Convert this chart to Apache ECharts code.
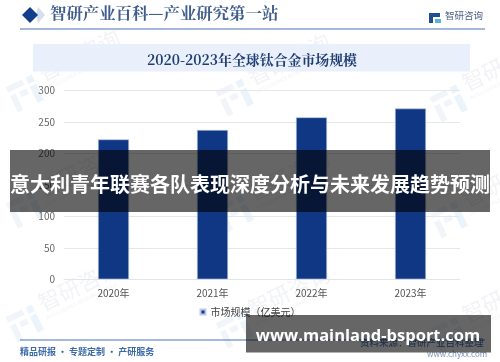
<!DOCTYPE html>
<html>
<head>
<meta charset="utf-8">
<style>
html, body { margin: 0; padding: 0; background: #fff; }
#chart { width: 500px; height: 362px; }
</style>
<script src="https://cdn.jsdelivr.net/npm/echarts@6/dist/echarts.min.js"></script>
</head>
<body>
<div id="chart"></div>
<script>
const years = ['2020年', '2021年', '2022年', '2023年']
const marketSize = [222, 237, 257, 271]
const seriesName = '市场规模（亿美元）'
const yTicks = [0, 50, 100, 150, 200, 250, 300]
const pageTitle = '智研产业百科—产业研究第一站'
const chartTitle = '2020-2023年全球钛合金市场规模'
const bannerText = '意大利青年联赛各队表现深度分析与未来发展趋势预测'
const siteText = 'www.mainland-bsport.com'
const footerLeft = '精品研报 · 专题定制 · 产研服务'
const footerRight = '资料来源：智研产业百科整理'
const footerUrl = 'www.chyxx.com'
const markPositions = [[28, 92], [238, 96], [452, 102], [28, 208], [238, 212], [452, 218], [28, 322], [238, 328], [452, 334]]

const font = '"Noto Sans CJK SC", sans-serif'
const serif = '"Noto Serif CJK SC", "Noto Sans CJK SC", serif'

// 背景水印
function watermark(pos) {
    return {
        type: 'group', x: pos[0], y: pos[1], rotation: 0.45, silent: true, z: 0,
        children: [
            { type: 'rect', shape: { x: -18, y: -14, width: 18, height: 6 }, style: { fill: '#f1f4f8' } },
            { type: 'rect', shape: { x: -18, y: -4, width: 6, height: 18 }, style: { fill: '#f1f4f8' } },
            { type: 'rect', shape: { x: -8, y: -4, width: 8, height: 6 }, style: { fill: '#f1f4f8' } },
            { type: 'rect', shape: { x: 4, y: -14, width: 7, height: 7 }, style: { fill: '#eaf4fa' } },
            { type: 'rect', shape: { x: 4, y: -4, width: 7, height: 18 }, style: { fill: '#eaf4fa' } },
            { type: 'text', x: 18, y: -22, style: { text: '智研咨询', font: '22px ' + font, fill: '#f2f3f6' } },
            { type: 'text', x: 18, y: 2, style: { text: 'INTELLIGENCE RESEARCH GROUP', font: '5px ' + font, fill: '#f0f2f5' } }
        ]
    }
}

let myChart = echarts.init(document.getElementById('chart'))
myChart.setOption({
    animation: false,
    backgroundColor: '#fff',
    grid: { left: 64, right: 40, top: 90.3, bottom: 82.7 },
    xAxis: {
        type: 'category',
        data: years,
        axisTick: { show: false },
        axisLine: { lineStyle: { color: '#e2e4e8', width: 1 } },
        axisLabel: { color: '#555', fontSize: 10, margin: 9, fontFamily: font }
    },
    yAxis: {
        type: 'value',
        min: 0,
        max: yTicks[yTicks.length - 1],
        interval: yTicks[1] - yTicks[0],
        axisLine: { show: false },
        axisTick: { show: false },
        splitLine: { lineStyle: { color: '#e6e7ea', width: 1 } },
        axisLabel: { color: '#666', fontSize: 10, margin: 9, fontFamily: font }
    },
    legend: {
        show: true,
        bottom: 40,
        left: 'center',
        itemWidth: 5,
        itemHeight: 5,
        itemGap: 2,
        icon: 'rect',
        textStyle: { color: '#444', fontSize: 10, fontFamily: font },
        data: [seriesName]
    },
    series: [{
        name: seriesName,
        type: 'bar',
        data: marketSize,
        barWidth: 31,
        itemStyle: { color: '#0f3783', borderColor: '#b9c9e6', borderWidth: 0.6 }
    }],
    graphic: markPositions.map(watermark).concat([
        // 页眉
        { type: 'polygon', shape: { points: [[36, 15], [38, 7], [45, 15], [38, 23]] }, style: { fill: '#d5deee' }, z: 1 },
        { type: 'polygon', shape: { points: [[22, 15], [30, 7], [38, 15], [30, 23]] }, style: { fill: '#123f8c' }, z: 1 },
        { type: 'text', x: 50, y: 5, style: { text: pageTitle, font: 'bold 16.4px ' + serif, fill: '#3f5c8d' }, z: 1 },
        { type: 'line', shape: { x1: 20, y1: 29, x2: 485, y2: 29 }, style: { stroke: '#4a72b8', lineWidth: 1 }, z: 1 },
        { type: 'rect', shape: { x: 429, y: 13, width: 11, height: 4 }, style: { fill: '#1d4f91' }, z: 1 },
        { type: 'rect', shape: { x: 429, y: 17, width: 4, height: 6 }, style: { fill: '#1d4f91' }, z: 1 },
        { type: 'rect', shape: { x: 435, y: 19, width: 6, height: 4 }, style: { fill: '#5fb0dc' }, z: 1 },
        { type: 'text', x: 445, y: 11, style: { text: '智研咨询', font: '9.5px ' + font, fill: '#4a5f85' }, z: 1 },
        // 标题底色
        { type: 'rect', shape: { x: 33, y: 44, width: 437, height: 27.5 }, style: { fill: '#e9f0fb' }, z: 1 },
        { type: 'text', x: 147, y: 60, style: { text: chartTitle, font: 'bold 13.9px ' + serif, fill: '#1f3d73', verticalAlign: 'middle' }, z: 2 },
        // 页脚
        { type: 'line', shape: { x1: 20, y1: 340, x2: 485, y2: 340 }, style: { stroke: '#4a72b8', lineWidth: 1 }, z: 1 },
        { type: 'text', x: 20, y: 351.5, style: { text: footerLeft, font: 'bold 9px ' + font, fill: '#3d6aa8', verticalAlign: 'middle' }, z: 1 },
        { type: 'text', x: 360, y: 342, style: { text: footerRight, font: '9.5px ' + font, fill: '#3d6aa8', verticalAlign: 'middle' }, z: 1 },
        { type: 'text', x: 427, y: 353.5, style: { text: footerUrl, font: '8px ' + font, fill: '#7b93bb', verticalAlign: 'middle' }, z: 1 },
        // 遮罩条和文字
        { type: 'rect', shape: { x: 10, y: 150, width: 480, height: 62 }, style: { fill: 'rgba(0,0,0,0.6)' }, z: 50 },
        { type: 'text', x: 250, y: 184, style: { text: bannerText, font: 'bold 20px ' + font, fill: '#fff', align: 'center', verticalAlign: 'middle' }, z: 51 },
        { type: 'rect', shape: { x: 246, y: 315, width: 245, height: 37.5 }, style: { fill: 'rgba(0,0,0,0.6)' }, z: 50 },
        { type: 'text', x: 368, y: 336.5, style: { text: siteText, font: 'bold 16.5px "Open Sans", sans-serif', fill: '#fff', align: 'center', verticalAlign: 'middle' }, z: 51 }
    ])
})
</script>
</body>
</html>
